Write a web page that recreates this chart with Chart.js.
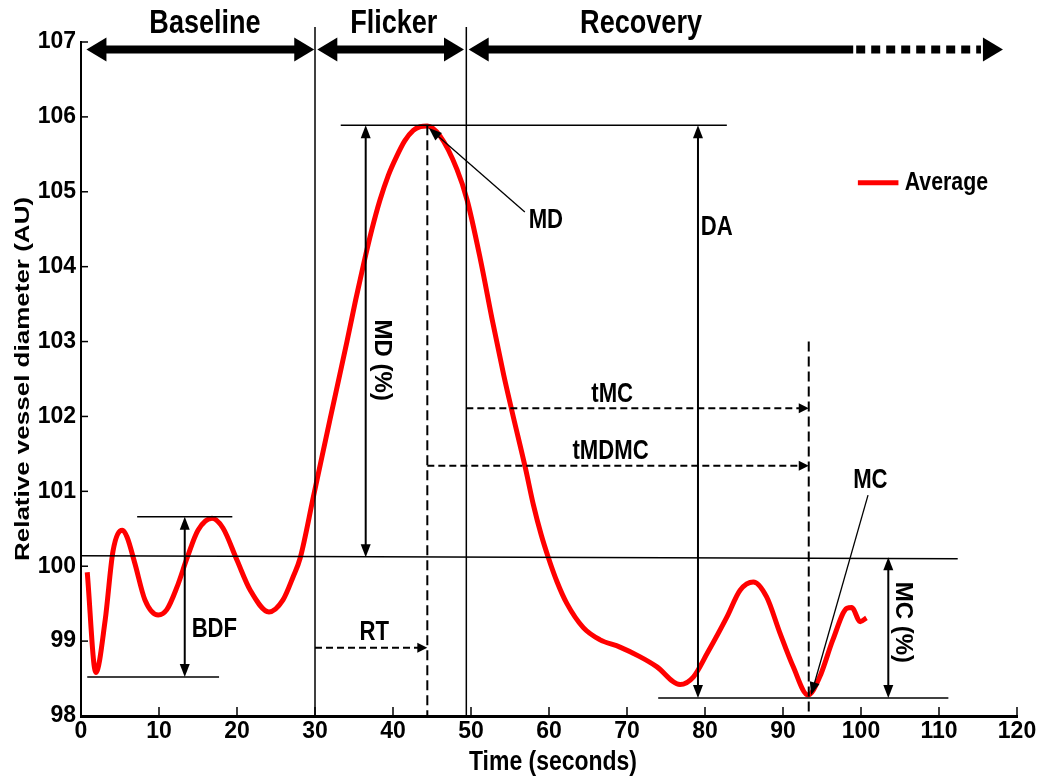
<!DOCTYPE html>
<html>
<head>
<meta charset="utf-8">
<title>Relative vessel diameter</title>
<script src="https://cdn.jsdelivr.net/npm/chart.js@4.4.1/dist/chart.umd.min.js"></script>
<style>
  html, body { margin: 0; padding: 0; background: #fff; }
  #wrap { width: 1040px; height: 778px; }
  canvas { background: #fff; }
</style>
</head>
<body>
<div id="wrap"><canvas id="vesselChart" width="1040" height="778"></canvas></div>
<script>
// valores
const timeSec = [0.8, 1.9, 3.1, 4.1, 5.3, 5.9, 6.9, 8.2, 9.9, 11.0, 12.3, 13.6, 15.0, 16.8, 18.2, 20.0,
  21.7, 24.1, 25.9, 27.2, 28.1, 29.8, 31.9, 34.1, 35.2, 36.2, 37.3, 38.3, 39.4, 40.5, 41.5, 42.6, 43.5,
  44.4, 46.0, 48.2, 49.5, 51.2, 52.8, 54.2, 55.3, 57.0, 58.0, 59.0, 59.9, 61.0, 62.3, 64.4, 66.5, 69.1,
  71.7, 73.8, 76.8, 78.5, 80.3, 82.8, 84.5, 86.2, 87.9, 89.6, 91.3, 93.2, 94.7, 96.4, 98.2, 98.8, 99.9, 100.7];
const avgDiameter = [99.92, 98.58, 99.28, 100.2, 100.48, 100.39, 100.04, 99.55, 99.35, 99.42, 99.72, 100.11,
  100.48, 100.64, 100.51, 100.08, 99.68, 99.39, 99.55, 99.86, 100.11, 100.93, 101.95, 103.0, 103.55,
  104.02, 104.5, 104.88, 105.22, 105.48, 105.68, 105.82, 105.87, 105.88, 105.75, 105.3, 104.89, 104.1,
  103.25, 102.55, 102.05, 101.3, 100.82, 100.42, 100.12, 99.8, 99.5, 99.18, 99.02, 98.92, 98.79, 98.66,
  98.42, 98.52, 98.84, 99.32, 99.68, 99.79, 99.59, 99.11, 98.66, 98.28, 98.52, 99.02, 99.44, 99.45,
  99.26, 99.31];

const xTickValues = [0, 10, 20, 30, 40, 50, 60, 70, 80, 90, 100, 110, 120];
const yTickValues = [98, 99, 100, 101, 102, 103, 104, 105, 106, 107];

// fases del protocolo
const phaseNames = ['Baseline', 'Flicker', 'Recovery'];
const phaseFrom = [0.7, 30.3, 49.7];
const phaseTo = [29.9, 49.1, 118.2];
const phaseLabelAt = [15.9, 40.1, 71.8];
const recoverySolidTo = 99.0;
const phaseArrowLevel = 106.9;
const phaseLabelLevel = 107.24;

// marcadores de los parámetros
const flickerOn = 30;
const flickerOff = 49.4;
const mdTime = 44.4;
const mcTime = 93.3;
const baselineLevel = 100.12;
const mdLevel = 105.89;
const mcLevel = 98.24;
const bdfHigh = 100.66;
const bdfLow = 98.52;

const FONT = "'Liberation Sans', Arial, sans-serif";
const NARROW = 0.82;

function seg(ctx, x1, y1, x2, y2, w, dash) {
  ctx.save();
  ctx.lineWidth = w;
  ctx.setLineDash(dash || []);
  ctx.beginPath();
  ctx.moveTo(x1, y1);
  ctx.lineTo(x2, y2);
  ctx.stroke();
  ctx.restore();
}

function head(ctx, tx, ty, ang, len, half) {
  const bx = tx - len * Math.cos(ang), by = ty - len * Math.sin(ang);
  const px = -Math.sin(ang) * half, py = Math.cos(ang) * half;
  ctx.beginPath();
  ctx.moveTo(tx, ty);
  ctx.lineTo(bx + px, by + py);
  ctx.lineTo(bx - px, by - py);
  ctx.closePath();
  ctx.fill();
}

function arrowTo(ctx, x1, y1, x2, y2, w, dash, len, half) {
  const ang = Math.atan2(y2 - y1, x2 - x1);
  seg(ctx, x1, y1, x2 - Math.cos(ang) * len * 0.8, y2 - Math.sin(ang) * len * 0.8, w, dash);
  head(ctx, x2, y2, ang, len, half);
}

function doubleArrow(ctx, x1, y1, x2, y2, w, len, half) {
  const ang = Math.atan2(y2 - y1, x2 - x1);
  const c = Math.cos(ang) * len * 0.8, s = Math.sin(ang) * len * 0.8;
  seg(ctx, x1 + c, y1 + s, x2 - c, y2 - s, w);
  head(ctx, x2, y2, ang, len, half);
  head(ctx, x1, y1, ang + Math.PI, len, half);
}

// texto en negrita; el horizontal se estrecha como en la figura original
function label(ctx, str, x, y, size, rot, align) {
  ctx.save();
  ctx.translate(x, y);
  if (rot) ctx.rotate(rot);
  else ctx.scale(NARROW, 1);
  ctx.font = 'bold ' + size + 'px ' + FONT;
  ctx.textAlign = align || 'center';
  ctx.textBaseline = 'middle';
  ctx.fillStyle = '#000';
  ctx.fillText(str, 0, 0);
  ctx.restore();
}

const annotations = {
  id: 'annotations',
  afterDraw(chart) {
    const ctx = chart.ctx;
    const xs = chart.scales.x, ys = chart.scales.y;
    const X = v => xs.getPixelForValue(v);
    const Y = v => ys.getPixelForValue(v);
    ctx.save();
    ctx.strokeStyle = '#000';
    ctx.fillStyle = '#000';

    // marcas de los ejes hacia dentro
    xs.ticks.forEach(t => seg(ctx, X(t.value), ys.bottom, X(t.value), ys.bottom - 9, 1.5));
    ys.ticks.forEach(t => seg(ctx, xs.left, Y(t.value), xs.left + 7, Y(t.value), 1.5));

    // titulos de los ejes
    ctx.save();
    ctx.translate(24, (ys.top + ys.bottom) / 2);
    ctx.rotate(-Math.PI / 2);
    ctx.scale(1, 0.76);
    ctx.font = 'bold 26px ' + FONT;
    ctx.textAlign = 'center';
    ctx.textBaseline = 'middle';
    ctx.fillText('Relative vessel diameter (AU)', 0, 0);
    ctx.restore();
    label(ctx, 'Time (seconds)', (xs.left + xs.right) / 2 + 4, xs.bottom - 16, 28);

    // flechas de las fases
    const ay = Y(phaseArrowLevel);
    doubleArrow(ctx, X(phaseFrom[0]), ay, X(phaseTo[0]), ay, 8, 20, 12);
    doubleArrow(ctx, X(phaseFrom[1]), ay, X(phaseTo[1]), ay, 8, 20, 12);
    head(ctx, X(phaseFrom[2]), ay, Math.PI, 20, 12);
    seg(ctx, X(phaseFrom[2]) + 15, ay, X(recoverySolidTo), ay, 8);
    seg(ctx, X(recoverySolidTo) + 3, ay, X(phaseTo[2]) - 22, ay, 8, [9, 6]);
    head(ctx, X(phaseTo[2]), ay, 0, 20, 12);
    phaseNames.forEach((n, i) => label(ctx, n, X(phaseLabelAt[i]), Y(phaseLabelLevel), 33));

    // lineas verticales de inicio y fin del parpadeo
    seg(ctx, X(flickerOn), Y(107.2), X(flickerOn), Y(98), 1.5);
    seg(ctx, X(flickerOff), Y(107.2), X(flickerOff), Y(98), 1.5);

    // lineas horizontales de referencia
    seg(ctx, X(0), Y(baselineLevel + 0.02), X(112.4), Y(baselineLevel - 0.02), 1.5);
    seg(ctx, X(33.3), Y(mdLevel), X(82.8), Y(mdLevel), 1.5);
    seg(ctx, X(74), Y(mcLevel), X(111.2), Y(mcLevel), 1.5);
    seg(ctx, X(7.2), Y(bdfHigh), X(19.4), Y(bdfHigh), 1.5);
    seg(ctx, X(0.8), Y(bdfLow), X(17.7), Y(bdfLow), 1.5);

    // lineas discontinuas en MD y MC
    seg(ctx, X(mdTime), Y(mdLevel), X(mdTime), Y(98), 2, [10, 5]);
    seg(ctx, X(mcTime), Y(103), X(mcTime), Y(98), 2, [10, 5]);

    // flechas dobles verticales
    doubleArrow(ctx, X(36.5), Y(mdLevel), X(36.5), Y(baselineLevel), 2, 13, 5);
    doubleArrow(ctx, X(79.1), Y(mdLevel), X(79.1), Y(mcLevel), 2, 13, 5);
    doubleArrow(ctx, X(103.5), Y(baselineLevel), X(103.5), Y(mcLevel), 2, 13, 5);
    doubleArrow(ctx, X(13.3), Y(bdfHigh), X(13.3), Y(bdfLow), 2, 13, 5);

    // flechas discontinuas de tiempo
    arrowTo(ctx, X(flickerOn), Y(98.91), X(mdTime), Y(98.91), 2, [7, 4], 10, 5);
    arrowTo(ctx, X(flickerOff), Y(102.11), X(mcTime), Y(102.11), 2, [7, 4], 10, 5);
    arrowTo(ctx, X(mdTime), Y(101.34), X(mcTime), Y(101.34), 2, [7, 4], 10, 5);

    // flechas indicadoras
    arrowTo(ctx, X(56.9), Y(104.73), X(44.6), Y(105.85), 1.3, null, 13, 5);
    arrowTo(ctx, X(100.9), Y(100.95), X(93.6), Y(98.28), 1.3, null, 13, 5);

    // etiquetas
    label(ctx, 'MD', X(59.6), Y(104.62), 27);
    label(ctx, 'DA', X(81.5), Y(104.52), 27);
    label(ctx, 'tMC', X(68.1), Y(102.29), 27);
    label(ctx, 'tMDMC', X(67.9), Y(101.53), 27);
    label(ctx, 'MC', X(101.2), Y(101.15), 27);
    label(ctx, 'RT', X(37.6), Y(99.12), 27);
    label(ctx, 'BDF', X(17.1), Y(99.15), 27);
    label(ctx, 'MD (%)', X(38.6), Y(102.75), 24, Math.PI / 2);
    label(ctx, 'MC (%)', X(105.4), Y(99.25), 24, Math.PI / 2);

    // leyenda
    ctx.strokeStyle = '#ff0000';
    seg(ctx, X(99.6), Y(105.12), X(104.8), Y(105.12), 5);
    label(ctx, 'Average', X(105.6), Y(105.12), 26, 0, 'left');

    ctx.restore();
  }
};

new Chart(document.getElementById('vesselChart'), {
  type: 'line',
  data: {
    datasets: [{
      label: 'Average',
      data: timeSec.map((t, i) => ({ x: t, y: avgDiameter[i] })),
      borderColor: '#ff0000',
      borderWidth: 5,
      pointRadius: 0,
      fill: false,
      cubicInterpolationMode: 'monotone'
    }]
  },
  options: {
    responsive: false,
    animation: false,
    layout: { padding: { top: 42, right: 23, left: 0, bottom: 0 } },
    plugins: {
      legend: { display: false },
      tooltip: { enabled: false }
    },
    scales: {
      x: {
        type: 'linear',
        min: xTickValues[0],
        max: xTickValues[xTickValues.length - 1],
        afterBuildTicks: s => { s.ticks = xTickValues.map(v => ({ value: v })); },
        ticks: { color: '#000', font: { family: FONT, size: 23, weight: 'bold' }, padding: 2, maxRotation: 0, autoSkip: false },
        grid: { display: false, drawTicks: false },
        border: { display: true, color: '#000', width: 3 },
        afterFit: s => { s.height = 62; }
      },
      y: {
        min: yTickValues[0],
        max: yTickValues[yTickValues.length - 1],
        afterBuildTicks: s => { s.ticks = yTickValues.map(v => ({ value: v })); },
        ticks: { color: '#000', font: { family: FONT, size: 23, weight: 'bold' }, padding: 5 },
        grid: { display: false, drawTicks: false },
        border: { display: true, color: '#000', width: 2 },
        afterFit: s => { s.width = 81; }
      }
    }
  },
  plugins: [annotations]
});
</script>
</body>
</html>
